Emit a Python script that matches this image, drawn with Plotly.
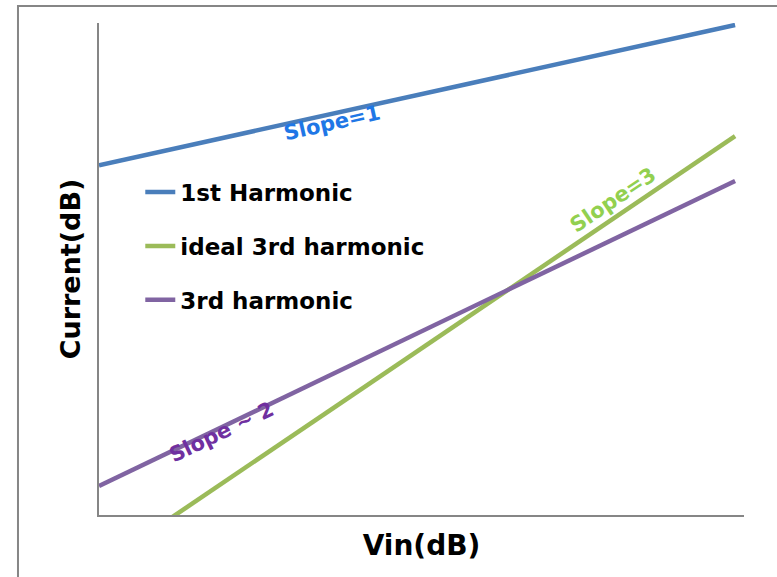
import plotly.graph_objects as go

# Data (arbitrary dB units)
vin_db = [0, 10]
first_harmonic = [71.1, 99.6]
ideal_third = [-10.5, 77.0]
third_harmonic = [5.9, 67.9]

series_names = ["1st Harmonic", "ideal 3rd harmonic", "3rd harmonic"]
series_colors = ["#4A7EBB", "#9BBB59", "#8064A2"]
series_values = [first_harmonic, ideal_third, third_harmonic]

slope_labels = ["Slope=1", "Slope=3", "Slope ~ 2"]
slope_x = [3.66, 8.08, 1.93]
slope_y = [79.6, 64.0, 16.9]
slope_angle = [-12.7, -34, -25.6]
slope_colors = ["#1F77E6", "#92D050", "#7030A0"]

FONT = "DejaVu Sans"

fig = go.Figure()
for i, (name, col, vals) in enumerate(zip(series_names, series_colors, series_values)):
    fig.add_trace(go.Scatter(
        x=vin_db, y=vals, mode="lines", name=name,
        line=dict(color=col, width=4.5),
        legendgroup=f"g{i}",
    ))

for txt, x, y, a, c in zip(slope_labels, slope_x, slope_y, slope_angle, slope_colors):
    fig.add_annotation(x=x, y=y, text=txt, textangle=a, showarrow=False,
                       font=dict(family=FONT, size=21, color=c, weight="bold"))

# outer chart border
fig.add_shape(type="rect", xref="paper", yref="paper",
              x0=-0.1256, x1=1.2, y0=-0.3, y1=1.0346,
              line=dict(color="#868686", width=2), layer="below")

fig.update_layout(
    width=777, height=577,
    margin=dict(l=99, r=33, t=23, b=62),
    paper_bgcolor="white", plot_bgcolor="white",
    font=dict(family=FONT, color="black"),
    showlegend=True,
    legend=dict(x=0.064, y=0.70, xanchor="left", yanchor="top",
                font=dict(family=FONT, size=23, color="black", weight="bold"),
                tracegroupgap=21, bgcolor="rgba(0,0,0,0)"),
    xaxis=dict(range=[0, 10.14], showgrid=False, zeroline=False, showticklabels=False,
               ticks="", showline=True, linecolor="#868686", linewidth=2,
               title=dict(text="Vin(dB)", font=dict(family=FONT, size=28, weight="bold"), standoff=19)),
    yaxis=dict(range=[0, 100], showgrid=False, zeroline=False, showticklabels=False,
               ticks="", showline=True, linecolor="#868686", linewidth=2,
               title=dict(text="Current(dB)", font=dict(family=FONT, size=27, weight="bold"), standoff=9)),
)

fig.write_html("out.html", config={"displayModeBar": False},
               post_script="document.body.style.margin='0';document.body.style.overflow='hidden';")
